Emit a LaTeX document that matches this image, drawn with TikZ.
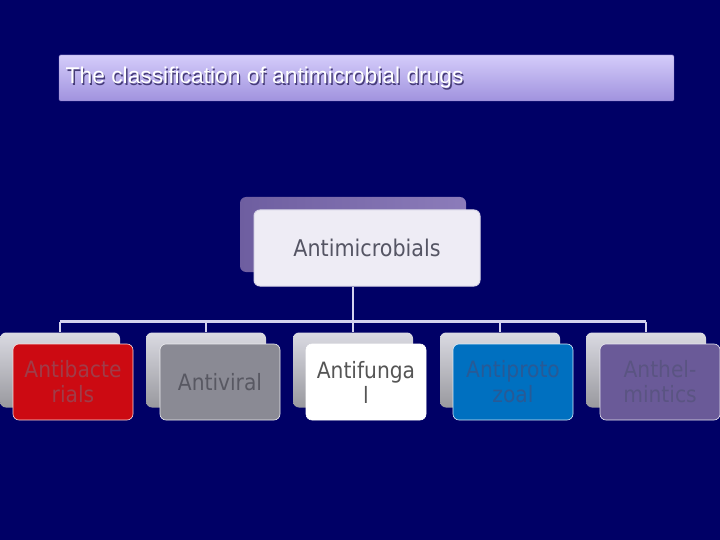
\documentclass[tikz,border=0pt]{standalone}
\usepackage{fontspec}
\setmainfont{Liberation Sans}
\newfontfamily\boxfont{DejaVu Sans Condensed}
\definecolor{bg}{HTML}{000066}
\definecolor{busline}{HTML}{D4D2EE}
\definecolor{bk}{HTML}{DADAE2}
\definecolor{cred}{HTML}{CC0A12}
\definecolor{cgray}{HTML}{8A8A94}
\definecolor{cwhite}{HTML}{FFFFFF}
\definecolor{cblue}{HTML}{0070C0}
\definecolor{cpurple}{HTML}{6A5A98}
\definecolor{titletop}{HTML}{D4CCFA}
\definecolor{titlebot}{HTML}{A092DE}
\definecolor{titleedge}{HTML}{8C80C8}
\definecolor{rootl}{HTML}{6E5EA0}
\definecolor{rootr}{HTML}{8C7CBA}
\definecolor{rootfill}{HTML}{EEECF5}
\definecolor{rootedge}{HTML}{DAD8E8}
\begin{document}
\begin{tikzpicture}[x=1pt,y=-1pt,
  backbox/.style={rounded corners=6pt, minimum width=120pt, minimum height=75pt, inner sep=0pt,
     top color=#1, bottom color=#1!70!black},
  frontbox/.style={rounded corners=6pt, minimum width=120pt, minimum height=76pt, inner sep=0pt,
     draw=white!85!#1, line width=0.6pt, fill=#1, align=center,
     font=\boxfont\fontsize{22.5}{25}\selectfont},
  conn/.style={draw=busline, line width=2.5pt},
  titlefont/.style={font=\fontsize{22.8}{27}\selectfont, inner sep=0pt, anchor=west}]
\fill[bg] (0,0) rectangle (720,540);
\useasboundingbox (0,0) rectangle (720,540);
% title
\node[rectangle, rounded corners=1.5pt, minimum width=615pt, minimum height=46pt, inner sep=0pt,
  top color=titletop, bottom color=titlebot, draw=titleedge] (title) at (366.5,78) {};
\node[titlefont, text={rgb,255:red,70;green,60;blue,120}] (titleshadow) at (66.8,79.2) {The classification of antimicrobial drugs};
\node[titlefont, text=white] (titletext) at (65.5,78) {The classification of antimicrobial drugs};
% root
\node[rounded corners=6pt, minimum width=226pt, minimum height=75pt, inner sep=0pt,
  left color=rootl, right color=rootr] (rootback) at (353,234.5) {};
\node[rounded corners=6pt, minimum width=226pt, minimum height=76pt, inner sep=0pt,
  fill=rootfill, draw=rootedge, line width=1pt,
  text={rgb,255:red,85;green,85;blue,100}, font=\boxfont\fontsize{23}{25}\selectfont] (root) at (367,248) {Antimicrobials};
% back boxes
\node[backbox=bk] (c1back) at (60,370) {};
\node[backbox=bk] (c2back) at (206,370) {};
\node[backbox=bk] (c3back) at (353,370) {};
\node[backbox=bk] (c4back) at (500,370) {};
\node[backbox=bk] (c5back) at (646,370) {};
% connectors
\draw[conn] (root.south -| rootback.center) -- ++(0,35) coordinate (bus);
\draw[conn] (c1back.north |- bus) -- (c5back.north |- bus);
\foreach \i in {1,...,5} {\draw[conn] (c\i back.north |- bus) -- (c\i back.north);}
% front boxes
\node[frontbox=cred, text={rgb,255:red,160;green,60;blue,72}] (c1) at (73,382) {Antibacte\\rials};
\node[frontbox=cgray, text={rgb,255:red,88;green,88;blue,98}] (c2) at (220,382) {Antiviral};
\node[frontbox=cwhite, draw=white, text={rgb,255:red,85;green,85;blue,85}] (c3) at (366,382) {Antifunga\\l};
\node[frontbox=cblue, text={rgb,255:red,40;green,90;blue,150}] (c4) at (513,382) {Antiproto\\zoal};
\node[frontbox=cpurple, text={rgb,255:red,90;green,84;blue,130}] (c5) at (660,382) {Anthel-\\mintics};
\end{tikzpicture}
\end{document}
